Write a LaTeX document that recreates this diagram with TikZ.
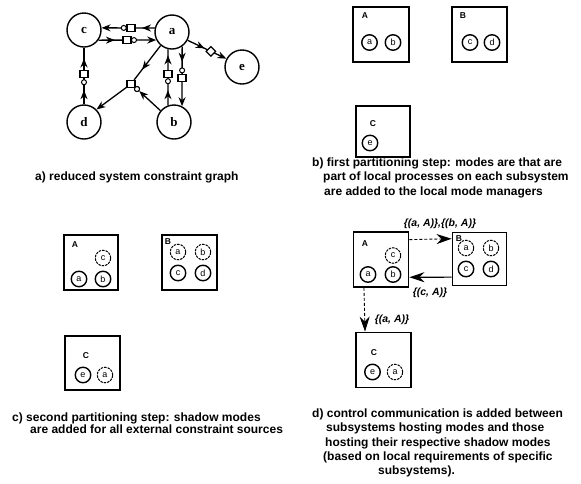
\documentclass[tikz,border=0pt]{standalone}
\usepackage{fontspec}
\setmainfont{Liberation Sans}
\newfontfamily\gserif{Liberation Serif}
\usetikzlibrary{arrows.meta,decorations.markings,shapes.geometric}
\pgfkeys{/pgf/decoration/am/.style={mark=at position #1 with {\arrow{Stealth[length=9pt,width=7pt]}}}}
\begin{document}
\begin{tikzpicture}[x=1pt,y=-1pt,
  gnode/.style={circle,draw,line width=1.4pt,minimum size=34pt,inner sep=0pt,font=\gserif\bfseries\fontsize{13}{13}\selectfont},
  gedge/.style={line width=1.3pt},
  gend/.style={-{Stealth[length=9pt,width=7pt]}},
  mids/.style={postaction={decorate},decoration={markings,#1}},
  sqm/.style={rectangle,draw,fill=white,minimum width=8pt,minimum height=7pt,inner sep=0pt,line width=1.2pt},
  cim/.style={circle,draw,fill=white,minimum size=5pt,inner sep=0pt,line width=1pt},
  dim/.style={diamond,draw,fill=white,minimum size=10pt,inner sep=0pt,line width=1.2pt},
  sbox/.style={rectangle,draw,line width=1.8pt,inner sep=0pt},
  blab/.style={inner sep=0pt,font=\bfseries\fontsize{8.5}{8.5}\selectfont},
  mode/.style={circle,draw,line width=1.4pt,minimum size=15.5pt,inner sep=0pt,font=\fontsize{9}{9}\selectfont},
  shadow/.style={mode,line width=1pt,dash pattern=on 2.5pt off 1pt},
  captxt/.style={anchor=base west,inner sep=0pt,font=\bfseries\fontsize{12}{14}\selectfont},
  ctrl/.style={line width=1.2pt,-{Stealth[length=15pt,width=10pt]}},
  clab/.style={inner sep=0pt,font=\bfseries\itshape\fontsize{10.5}{10.5}\selectfont},
]
\useasboundingbox (0,0) rectangle (581,483);

% ---------- a) reduced system constraint graph ----------
\node[gnode] (c) at (84,30) {c};
\node[gnode] (a) at (172,32) {a};
\node[gnode] (e) at (242,67) {e};
\node[gnode] (d) at (84,122) {d};
\node[gnode] (b) at (174,122) {b};

\draw[gedge,gend,mids={am=.24}] (a.167) -- node[sqm,pos=.447] (m1s) {} node[cim,pos=.583] (m1c) {} (c.7);
\draw[gedge,gend,mids={am=.285}] (c.-35) -- node[sqm,pos=.493] (m2s) {} node[cim,pos=.615] (m2c) {} (a.207);
\draw[gedge,mids={am=.25,am=.81}] (d.90) -- node[cim,pos=.39] (m3c) {} node[sqm,pos=.53] (m3s) {} (c.-90);
\draw[gedge,mids={am=.27,am=.89}] (b.110) -- node[cim,pos=.43] (m4c) {} node[sqm,pos=.565] (m4s) {} (a.257);
\draw[gedge,gend,mids={am=.255}] (a.-55) -- node[cim,pos=.40] (m5c) {} node[sqm,pos=.525] (m5s) {} (b.63);
\draw[gedge,gend,mids={am=.44}] (a.-28) -- node[dim,pos=.6] (m6d) {} (e.152);

\node[sqm] (j) at (131,84) {};
\node[cim] (jc) at (137,89) {};
\draw[gedge,mids={am=.7}] (a.-130) -- (j);
\draw[gedge,gend] (b.140) -- (jc);
\draw[gedge,gend] (j) -- (d.45);
\node[sqm] at (j) {};
\node[cim] at (jc) {};

\node[captxt] (capa) at (35,180) {a) reduced system constraint graph};

% ---------- b) first partitioning step ----------
\node[sbox,minimum width=56pt,minimum height=55pt] (bA) at (381,34.5) {};
\node[blab] (bAl) at (365,16) {A};
\node[mode] (bAa) at (369.5,42.5) {a};
\node[mode] (bAb) at (393,42.5) {b};
\node[sbox,minimum width=55pt,minimum height=55pt] (bB) at (479.5,34.5) {};
\node[blab] (bBl) at (463,16) {B};
\node[mode] (bBc) at (470,42.5) {c};
\node[mode] (bBd) at (492,42.5) {d};
\node[sbox,minimum width=54pt,minimum height=51pt] (bC) at (383,131.5) {};
\node[blab] (bCl) at (373,124) {C};
\node[mode] (bCe) at (370,143) {e};

\node[captxt] (capb1) at (312,166) {b) first partitioning step: modes are that are};
\node[captxt] (capb2) at (323,180.5) {part of local processes on each subsystem};
\node[captxt] (capb3) at (324,195) {are added to the local mode managers};

% ---------- c) second partitioning step ----------
\node[sbox,minimum width=54pt,minimum height=55pt] (cA) at (91,262.5) {};
\node[blab] (cAl) at (75,245) {A};
\node[shadow] (cAc) at (103,258) {c};
\node[mode] (cAa) at (79,279) {a};
\node[mode] (cAb) at (103,279) {b};
\node[sbox,minimum width=55pt,minimum height=55pt] (cB) at (189.5,262.5) {};
\node[blab] (cBl) at (168,242) {B};
\node[shadow] (cBa) at (178,252) {a};
\node[shadow] (cBb) at (203,252) {b};
\node[mode] (cBc) at (178,273) {c};
\node[mode] (cBd) at (203,273) {d};
\node[sbox,minimum width=55pt,minimum height=54pt] (cC) at (92.5,363) {};
\node[blab] (cCl) at (86,356) {C};
\node[mode] (cCe) at (83,375) {e};
\node[shadow] (cCa) at (105,375) {a};

\node[captxt] (capc1) at (12,421) {c) second partitioning step: shadow modes};
\node[captxt] (capc2) at (30,433.5) {are added for all external constraint sources};

% ---------- d) control communication ----------
\node[sbox,minimum width=55pt,minimum height=55pt] (dA) at (381,259.5) {};
\node[blab] (dAl) at (365,244) {A};
\node[shadow] (dAc) at (393,255.5) {c};
\node[mode] (dAa) at (368,274.5) {a};
\node[mode] (dAb) at (393,274.5) {b};
\node[sbox,minimum width=54pt,minimum height=53pt] (dB) at (479.5,259) {};
\node[blab] (dBl) at (459,239) {B};
\node[shadow] (dBa) at (466,248) {a};
\node[shadow] (dBb) at (491,248) {b};
\node[mode] (dBc) at (466,269) {c};
\node[mode] (dBd) at (491,269) {d};
\node[sbox,minimum width=55pt,minimum height=55pt] (dC) at (383.5,360) {};
\node[blab] (dCl) at (374,352.5) {C};
\node[mode] (dCe) at (372.5,372) {e};
\node[shadow] (dCa) at (395,372) {a};

\draw[ctrl,line width=0.9pt,dash pattern=on 3pt off 2pt] (dA.35) -- (dB.144);
\draw[ctrl] (dB.213) -- (dA.-32);
\draw[ctrl,line width=0.9pt,dash pattern=on 3pt off 2pt] (dA.-121) -- (dC.123);
\node[clab] (l1) at (440,224) {\{(a, A)\},\{(b, A)\}};
\node[clab] (l2) at (430,293) {\{(c, A)\}};
\node[clab] (l3) at (392,320) {\{(a, A)\}};

\node[captxt] (capd1) at (312,417) {d) control communication is added between};
\node[captxt] (capd2) at (326,431.5) {subsystems hosting modes and those};
\node[captxt] (capd3) at (325,446) {hosting their respective shadow modes};
\node[captxt] (capd4) at (323,460) {(based on local requirements of specific};
\node[captxt] (capd5) at (378,474.5) {subsystems).};
\end{tikzpicture}
\end{document}
